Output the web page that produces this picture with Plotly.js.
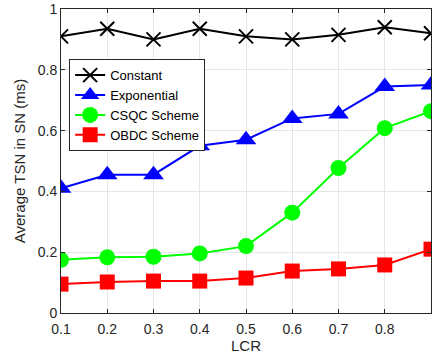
<!DOCTYPE html>
<html>
<head>
<meta charset="utf-8">
<script src="https://cdn.plot.ly/plotly-3.0.1.min.js"></script>
<style>html,body{margin:0;padding:0;background:#fff;}#chart{width:437px;height:354px;}</style>
</head>
<body>
<div id="chart"></div>
<script>
// Load-to-capacity ratio values
const lcr = [0.1, 0.2, 0.3, 0.4, 0.5, 0.6, 0.7, 0.8, 0.9];

// Average TSN in SN (ms) per scheme
const constantTsn = [0.91, 0.935, 0.90, 0.935, 0.91, 0.90, 0.915, 0.94, 0.92];
const exponentialTsn = [0.41, 0.455, 0.455, 0.55, 0.57, 0.64, 0.655, 0.745, 0.75];
const csqcTsn = [0.175, 0.183, 0.185, 0.196, 0.22, 0.33, 0.477, 0.608, 0.664];
const obdcTsn = [0.095, 0.102, 0.105, 0.105, 0.115, 0.138, 0.145, 0.158, 0.21];

const xTicks = [0.1, 0.2, 0.3, 0.4, 0.5, 0.6, 0.7, 0.8, 0.9];
const xTickText = ['0.1', '0.2', '0.3', '0.4', '0.5', '0.6', '0.7', '0.8', ''];
const yTicks = [0, 0.2, 0.4, 0.6, 0.8, 1];
const yTickText = ['0', '0.2', '0.4', '0.6', '0.8', '1'];

const traces = [
  {name: 'Constant', y: constantTsn, color: '#000000', symbol: 'x-thin-open', size: 14},
  {name: 'Exponential', y: exponentialTsn, color: '#0000ff', symbol: 'triangle-up', size: 18},
  {name: 'CSQC Scheme', y: csqcTsn, color: '#00ff00', symbol: 'circle', size: 16},
  {name: 'OBDC Scheme', y: obdcTsn, color: '#ff0000', symbol: 'square', size: 15}
].map(s => ({
  type: 'scatter',
  mode: 'lines+markers',
  name: s.name,
  x: lcr,
  y: s.y,
  line: {color: s.color, width: 2},
  marker: {color: s.color, symbol: s.symbol, size: s.size,
           line: {color: s.color, width: s.symbol === 'x-thin-open' ? 2 : 0}}
}));

const axisCommon = {
  showline: true,
  linecolor: '#262626',
  linewidth: 1,
  mirror: 'ticks',
  ticks: 'inside',
  ticklen: 4,
  tickcolor: '#262626',
  showgrid: true,
  gridcolor: '#e6e6e6',
  gridwidth: 1,
  zeroline: false,
  tickfont: {family: 'Liberation Sans, Arial, sans-serif', size: 14, color: '#262626'}
};

const layout = {
  width: 437,
  height: 354,
  margin: {l: 61, r: 6, t: 9, b: 41},
  paper_bgcolor: '#ffffff',
  plot_bgcolor: '#ffffff',
  showlegend: true,
  legend: {
    x: 0.022, y: 0.835, xanchor: 'left', yanchor: 'top',
    bgcolor: '#ffffff',
    bordercolor: '#262626',
    borderwidth: 1,
    font: {family: 'Liberation Sans, Arial, sans-serif', size: 13, color: '#000000'},
    tracegroupgap: 0,
    itemwidth: 30
  },
  xaxis: Object.assign({}, axisCommon, {
    range: [0.1, 0.9],
    tickmode: 'array',
    tickvals: xTicks,
    ticktext: xTickText,
    ticklabelstandoff: 3,
    title: {text: 'LCR', standoff: 0,
            font: {family: 'Liberation Sans, Arial, sans-serif', size: 15, color: '#262626'}}
  }),
  yaxis: Object.assign({}, axisCommon, {
    range: [0, 1],
    tickmode: 'array',
    tickvals: yTicks,
    ticktext: yTickText,
    title: {text: 'Average TSN in SN (ms)', standoff: 8,
            font: {family: 'Liberation Sans, Arial, sans-serif', size: 15, color: '#262626'}}
  })
};

Plotly.newPlot('chart', traces, layout, {displayModeBar: false, staticPlot: true});
</script>
</body>
</html>
